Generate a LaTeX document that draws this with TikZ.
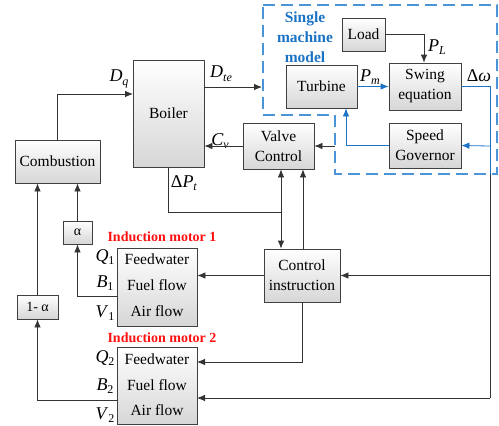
\documentclass[tikz,border=0pt]{standalone}
\usepackage{fontspec}
\setmainfont{Liberation Serif}
\newfontfamily\tnr{Liberation Serif}
\usetikzlibrary{arrows.meta}
\definecolor{lc}{HTML}{333333}
\definecolor{bl}{HTML}{1A73C4}
\definecolor{dbl}{HTML}{4A94D8}
\definecolor{rd}{HTML}{FF1010}
\newcommand{\lab}[2]{\textit{#1}\raisebox{-0.45ex}{\fontsize{12}{12}\selectfont #2}}
\tikzset{
  blk/.style={draw=black!75, line width=0.8pt, top color=white, bottom color=black!16,
    inner sep=0pt, font=\tnr\fontsize{15.5}{20}\selectfont, align=center},
  ln/.style={draw=lc, line width=0.8pt},
  arr/.style={ln, -{Latex[length=8pt,width=6.5pt]}},
  bln/.style={draw=bl, line width=0.8pt},
  barr/.style={bln, -{Latex[length=8pt,width=6.5pt]}},
  lbl/.style={inner sep=0pt, font=\tnr\fontsize{18}{18}\selectfont},
  txt/.style={inner sep=0pt, font=\tnr\fontsize{15.5}{20}\selectfont},
  redt/.style={inner sep=0pt, text=rd, font=\tnr\fontsize{14}{16}\selectfont\bfseries},
}
\begin{document}
\begin{tikzpicture}[x=1pt,y=-1pt]
\useasboundingbox (0,0) rectangle (499,426);
% dashed region
\draw[dbl, line width=1.1pt, dash pattern=on 12pt off 6pt]
  (263,5) -- (497,5) -- (497,174) -- (335,174) -- (335,115) -- (263,115) -- cycle;
\node[font=\tnr\fontsize{15.5}{20}\selectfont\bfseries, text=bl, align=center, inner sep=0pt] (smm) at (305,37) {Single\\machine\\model};
% blocks
\node[blk, minimum width=71pt, minimum height=107pt] (boiler) at (168.5,113.5) {Boiler};
\node[blk, minimum width=85pt, minimum height=43pt] (comb) at (57.5,161.5) {Combustion};
\node[blk, minimum width=71pt, minimum height=46pt] (valve) at (278.5,146) {Valve\\Control};
\node[blk, minimum width=71pt, minimum height=43pt] (turb) at (321.5,86.5) {Turbine};
\node[blk, minimum width=72pt, minimum height=47pt] (swing) at (425,86.5) {Swing\\equation};
\node[blk, minimum width=43pt, minimum height=33pt] (load) at (363.5,34.5) {Load};
\node[blk, minimum width=72pt, minimum height=45pt] (gov) at (425,145.5) {Speed\\Governor};
\node[blk, minimum width=76pt, minimum height=53pt] (ctrl) at (302,275.5) {Control\\instruction};
\node[blk, minimum width=29pt, minimum height=23pt, font=\tnr\fontsize{14}{16}\selectfont] (alpha) at (77.5,232.5) {α};
\node[blk, minimum width=41pt, minimum height=24pt, font=\tnr\fontsize{14}{16}\selectfont] (oma) at (37.5,307) {1- α};
\node[blk, minimum width=80pt, minimum height=78pt] (m1) at (157,287) {};
\node[blk, minimum width=80pt, minimum height=77pt] (m2) at (157,385.5) {};
% motor texts
\node[txt] (m1a) at (157,259) {Feedwater};
\node[txt] (m1b) at (157,285) {Fuel flow};
\node[txt] (m1c) at (157,311) {Air flow};
\node[txt] (m2a) at (157,359) {Feedwater};
\node[txt] (m2b) at (157,385) {Fuel flow};
\node[txt] (m2c) at (157,410) {Air flow};
\node[redt] (im1) at (162,237) {Induction motor 1};
\node[redt] (im2) at (162,338) {Induction motor 2};
% labels
\node[lbl] (ldq) at (119,79) {\lab{D}{\textit{q}}};
\node[lbl] (ldte) at (221,74) {\lab{D}{\textit{te}}};
\node[lbl] (lcv) at (220,141) {\lab{C}{\textit{v}}};
\node[lbl] (lpt) at (184,183) {Δ\lab{P}{\textit{t}}};
\node[lbl] (lpm) at (370,77) {\lab{P}{\textit{m}}};
\node[lbl] (lpl) at (437,47) {\lab{P}{\textit{L}}};
\node[lbl] (ldw) at (479,76) {Δ\textit{ω}};
\node[lbl] (lq1) at (105,257) {\lab{Q}{1}};
\node[lbl] (lb1) at (105,283) {\lab{B}{1}};
\node[lbl] (lv1) at (105,313) {\lab{V}{1}};
\node[lbl] (lq2) at (105,358) {\lab{Q}{2}};
\node[lbl] (lb2) at (105,386) {\lab{B}{2}};
\node[lbl] (lv2) at (105,415) {\lab{V}{2}};
% coordinates
\coordinate (dq) at (133,94);
\coordinate (dte0) at (204,87);
\coordinate (dte) at (262,87);
\coordinate (vin) at (335,146);
\coordinate (pj) at (281,212);
\coordinate (rj) at (490,146);
\coordinate (rb) at (490,174);
\coordinate (rc) at (490,275.5);
\coordinate (rd) at (490,398);
\coordinate (m2in1) at (197,362);
\coordinate (m2in2) at (197,398);
\coordinate (m1out) at (117,296);
\coordinate (m2out) at (117,400);
% connectors
\draw[arr] (comb.north) |- (dq);
\draw[arr] (dte0) -- (dte);
\draw[arr] (valve.west) -- (boiler.east |- valve.west);
\draw[arr] (vin) -- (valve.east);
\draw[ln] (boiler.south) -- (boiler.south |- pj) -- (pj);
\draw[arr] (pj) -- (pj |- valve.south);
\draw[arr] (pj) -- (pj |- ctrl.north);
\draw[arr] ([xshift=1pt]ctrl.north) -- ([xshift=1pt]ctrl.north |- valve.south);
\draw[barr] (turb.east) -- (swing.west);
\draw[arr] (load.east) -| ([xshift=-1pt]swing.north);
\draw[barr] (gov.west) -| ([xshift=24.5pt]turb.south);
\draw[bln] (swing.east) -| (rj);
\draw[barr] (rj) -- (gov.east);
\draw[bln] (rj) -- (rb);
\draw[ln] (rb) -- (rd);
\draw[arr] (rc) -- (ctrl.east);
\draw[arr] (rd) -- (m2in2);
\draw[arr] (ctrl.west) -- (m1.east |- ctrl.west);
\draw[arr] (ctrl.south) |- (m2in1);
\draw[arr] (m1out) -| (alpha.south);
\draw[arr] (m2out) -| (oma.south);
\draw[arr] (alpha.north) -- (alpha.north |- comb.south);
\draw[arr] (oma.north) -- (oma.north |- comb.south);
\end{tikzpicture}
\end{document}
